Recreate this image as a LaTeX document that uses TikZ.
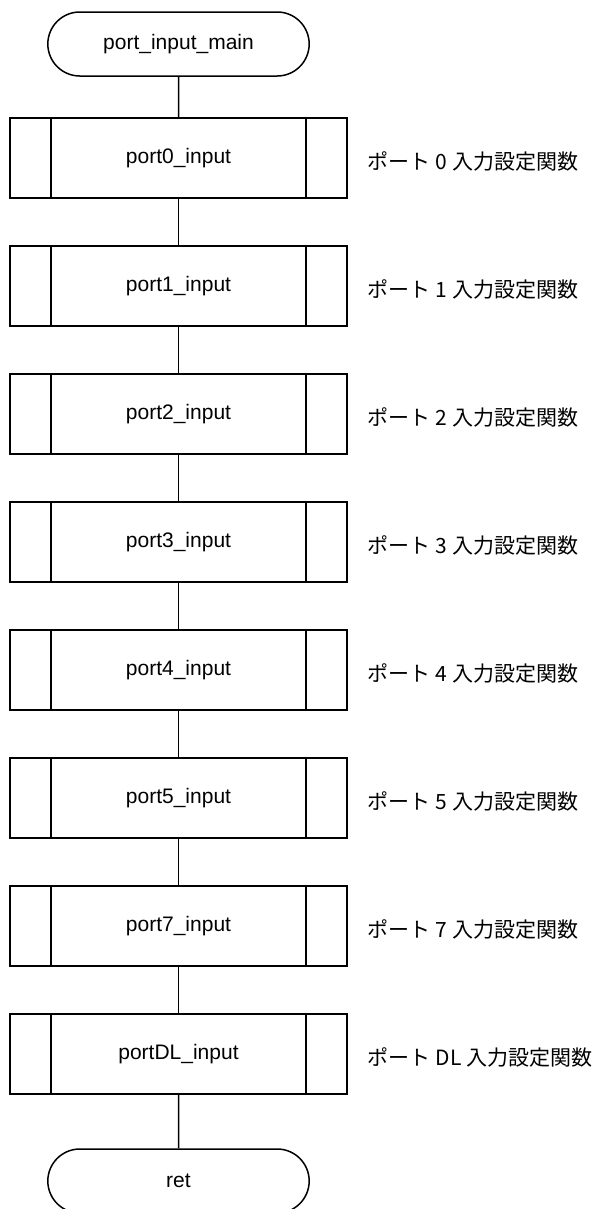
\documentclass[tikz,border=0pt]{standalone}
\usepackage{fontspec}
\setmainfont{Liberation Sans}
\newfontfamily\jpfont{Noto Sans CJK JP}
\usetikzlibrary{positioning, shapes.misc}
\tikzstyle{block} = [line width=1.5bp, font=\fontsize{21bp}{25bp}\selectfont]
\tikzstyle{terminal} = [draw, block, rounded rectangle, minimum width=268bp, minimum height=64bp]
\tikzstyle{subroutine} = [draw, block, rectangle, minimum width=337bp, minimum height=80bp,
    path picture={
        \draw [line width=1.5bp] ([xshift=41bp]path picture bounding box.north west) -- ([xshift=41bp]path picture bounding box.south west);
        \draw [line width=1.5bp] ([xshift=-41bp]path picture bounding box.north east) -- ([xshift=-41bp]path picture bounding box.south east);
    }]
\tikzstyle{note} = [inner sep=0pt, font=\fontsize{21bp}{25bp}\jpfont]
\tikzstyle{link} = [line width=1.5bp]

\begin{document}
\begin{tikzpicture}[x=1bp, y=-1bp]
    \useasboundingbox (0,0) rectangle (595,1209);
    \node (start) [terminal] at (178.5,44) {port\_input\_main};
    \node (port 0) [subroutine, below=40.5bp of start] {port0\_input};

    \foreach \i/\j in {0/1, 1/2, 2/3, 3/4, 4/5, 5/7, 7/DL} {%
        \node (port \j) [subroutine, below=46.5bp of port \i] {port\j\_input};
    }
    \node (ret) [terminal, below=53.5bp of port DL] {ret};

    % Comments beside the calls.
    \foreach \i in {0, 1, 2, 3, 4, 5, 7, DL} {%
        \node (note \i) [note, right=20bp of port \i, yshift=-3bp] {ポート \i{} 入力設定関数};
    }

    % Lines.
    \draw [link] (start) -- (port 0);
    \foreach \i/\j in {0/1, 1/2, 2/3, 3/4, 4/5, 5/7, 7/DL} {%
        \draw [link] (port \i) -- (port \j);
    }
    \draw [link] (port DL) -- (ret);
\end{tikzpicture}
\end{document}
